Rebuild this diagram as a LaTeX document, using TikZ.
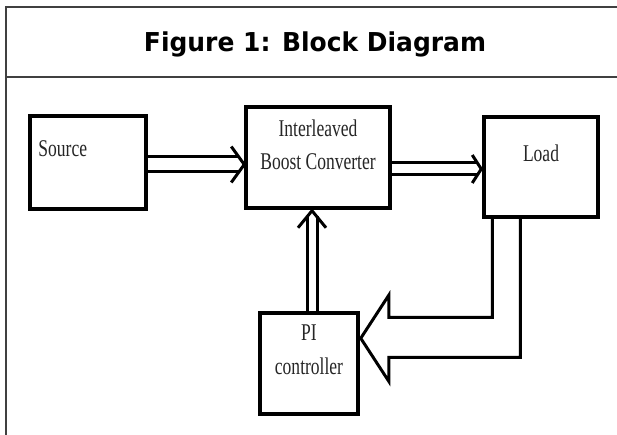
\documentclass[tikz,border=0pt]{standalone}
\usepackage{fontspec}
\usetikzlibrary{arrows.meta, positioning, calc}
\newfontfamily\blockfont[FakeStretch=0.73]{Liberation Serif}
\newfontfamily\headfont[FakeStretch=0.96]{DejaVu Sans}

\tikzset{
  blockbox/.style={draw=black, line width=3.5, fill=white, inner sep=0pt},
  blocklabel/.style={font=\blockfont\fontsize{24}{33}\selectfont, text=black!85, inner sep=0pt, align=center},
  dblarrow/.style={draw=black, line width=3, double=white, line join=miter},
  chevron/.style={draw=black, line width=3, line join=miter},
  framerule/.style={draw=black!75, line width=1.2}
}

\begin{document}
\begin{tikzpicture}[x=1pt, y=-1pt]
  \useasboundingbox (0,0) rectangle (617,435);
  % Frame and heading
  \draw[framerule] (6,435) -- (6,7) -- (617,7);
  \draw[framerule] (6,77) -- (617,77);
  \node[font=\headfont\bfseries\fontsize{26}{30}\selectfont, inner sep=0pt, anchor=base] (title) at (315,52) {Figure 1: Block Diagram};
  % Blocks
  \node[blockbox, minimum width=116, minimum height=93] (source) at (88,162.5) {};
  \node[blockbox, minimum width=144, minimum height=101] (converter) at (318,157.5) {};
  \node[blockbox, minimum width=114, minimum height=100] (load) at (541,167) {};
  \node[blockbox, minimum width=98, minimum height=101] (pictrl) at (309,363.5) {};
  % Block texts
  \node[blocklabel, anchor=base west] (sourcetxt) at ($(source.north west)+(10,42)$) {Source};
  \node[blocklabel, anchor=north] (convtxt) at ($(converter.north)+(0,14.5)$) {Interleaved\\Boost Converter};
  \node[blocklabel, anchor=base] (loadtxt) at ($(load.north)+(0,46)$) {Load};
  \node[blocklabel, anchor=north, font=\blockfont\fontsize{24}{34}\selectfont] (pitxt) at ($(pictrl.north)+(0,13.5)$) {PI\\controller};
  % Forward arrows (double shaft + open head)
  \draw[dblarrow, double distance=12] ($(source.east)+(0,2)$) -- ($(converter.west)+(-5,7)$);
  \draw[chevron] ($(converter.west)+(-13,-11)$) -- ($(converter.west)+(0,7)$) -- ($(converter.west)+(-13,25)$);
  \draw[dblarrow, double distance=9] ($(converter.east)+(0,11.5)$) -- ($(load.west)+(-4,2)$);
  \draw[chevron] ($(load.west)+(-10,-12)$) -- ($(load.west)+(-1,2)$) -- ($(load.west)+(-10,16)$);
  \draw[dblarrow, double distance=7] ($(pictrl.north)+(3,0)$) -- ($(converter.south)+(-6,6)$);
  \draw[chevron] ($(converter.south)+(-20,18)$) -- ($(converter.south)+(-6,1)$) -- ($(converter.south)+(8,18)$);
  % Feedback arrow
  \coordinate (fbtip) at ($(pictrl.north east)+(1,27)$);
  \draw[black, line width=3, line join=miter]
    ($(load.south west)+(10,0)$) |- ($(fbtip)+(28,-21)$) -- ++(0,-22) -- (fbtip)
    -- ($(fbtip)+(28,43)$) -- ++(0,-24) -| ($(load.south west)+(38,0)$);
\end{tikzpicture}
\end{document}
